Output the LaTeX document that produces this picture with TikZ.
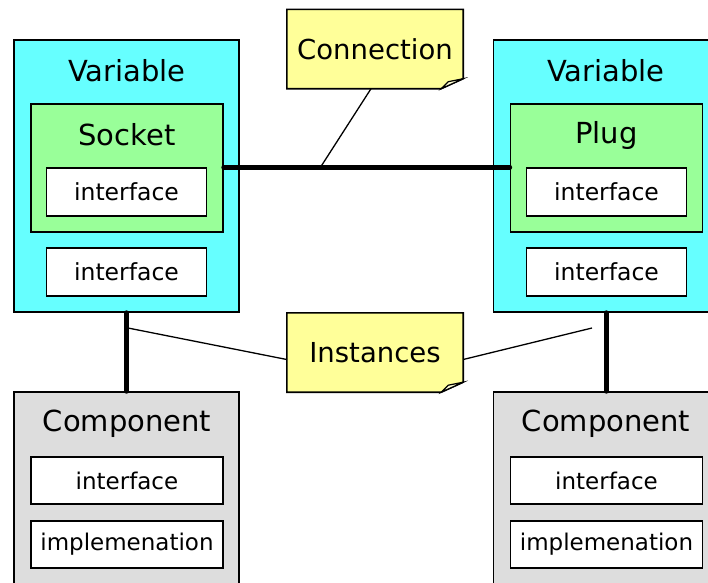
\documentclass[tikz,border=0pt]{standalone}
\usepackage{fontspec}
\setmainfont{DejaVu Sans}
\usepackage{tikz}
\usetikzlibrary{positioning}
\usetikzlibrary{calc}
\usetikzlibrary{backgrounds}

\definecolor{varcyan}{HTML}{66FFFF}
\definecolor{sockgreen}{HTML}{99FF99}
\definecolor{compgrey}{HTML}{DDDDDD}
\definecolor{noteyellow}{HTML}{FFFF99}

\tikzset{
  box/.style={draw, line width=1.6pt, inner sep=0pt},
  varbox/.style={box, fill=varcyan, minimum width=225pt, minimum height=272pt},
  compbox/.style={box, fill=compgrey, minimum width=225pt, minimum height=220pt},
  sockbox/.style={box, fill=sockgreen, minimum width=192pt, minimum height=128pt},
  ifbox/.style={box, fill=white, minimum width=160pt, minimum height=48pt,
    font=\fontsize{23.5}{25}\selectfont},
  partbox/.style={box, fill=white, minimum width=192pt, minimum height=47pt,
    font=\fontsize{23}{25}\selectfont},
  heading/.style={font=\fontsize{29}{31}\selectfont},
  notebox/.style={minimum width=176pt, minimum height=79pt, inner sep=0pt,
    font=\fontsize{27.5}{29}\selectfont},
  wire/.style={line width=5pt, line cap=round},
  lead/.style={line width=1.3pt},
}

\begin{document}
\begin{tikzpicture}[x=1pt, y=-1pt]
    \useasboundingbox (0,0) rectangle (708,582);

    % variables
    \node[varbox] (lvar) at (126.5,176) {};
    \node[varbox] (rvar) at (606,176) {};
    \node[heading] (lvartext) at (127,71) {Variable};
    \node[heading] (rvartext) at (606,71) {Variable};

    \node[sockbox] (lsock) at (127,168) {};
    \node[sockbox] (rplug) at (606.5,168) {};
    \node[heading] (lsocktext) at (127,135) {Socket};
    \node[heading] (rplugtext) at (606.5,135) {Plug};

    \node[ifbox] (lsockif) at (126.5,192) {interface};
    \node[ifbox] (rplugif) at (606.5,192) {interface};
    \node[ifbox] (lif) at (126.5,272) {interface};
    \node[ifbox] (rif) at (606.5,272) {interface};

    % components
    \node[compbox] (lcomp) at (126.5,502) {};
    \node[compbox] (rcomp) at (606,502) {};
    \node[heading] (lcomptext) at (127,424) {Component};
    \node[heading] (rcomptext) at (606,424) {Component};

    \node[partbox] (lcompif) at (127,480.5) {interface};
    \node[partbox] (rcompif) at (606.5,480.5) {interface};
    \node[partbox] (lcompimpl) at (127,544.5) {implemenation};
    \node[partbox] (rcompimpl) at (606.5,544.5) {implemenation};

    % notes
    \node[notebox] (conn) at (375,49) {Connection};
    \node[notebox] (inst) at (375,352.5) {Instances};
    \begin{scope}[on background layer]
    \foreach \n in {conn,inst} {
        \filldraw[fill=noteyellow, line width=1.6pt]
            (\n.north west) -- (\n.north east) -- ([yshift=10pt]\n.south east)
            -- ([xshift=-22pt]\n.south east) -- (\n.south west) -- cycle;
        \filldraw[fill=noteyellow!40, line width=1.2pt]
            ([xshift=-22pt]\n.south east) -- ([xshift=-15pt,yshift=7pt]\n.south east)
            -- ([yshift=10pt]\n.south east) -- cycle;
    }
    \end{scope}

    % connectors
    \coordinate (cjoin) at (320,168);
    \coordinate (lhook) at (128,328);
    \coordinate (rhook) at (592,328);

    \draw[wire] (lsockif.north -| lsock.east) -- (rplugif.north -| rplug.west);
    \draw[lead] ([xshift=-4pt]conn.south) -- (cjoin);

    \draw[wire] (lvar.south) -- (lcomp.north);
    \draw[wire] (rvar.south) -- (rcomp.north);
    \draw[lead] (lhook) -- ([yshift=-7pt]inst.west);
    \draw[lead] ([yshift=-7pt]inst.east) -- (rhook);
\end{tikzpicture}
\end{document}
